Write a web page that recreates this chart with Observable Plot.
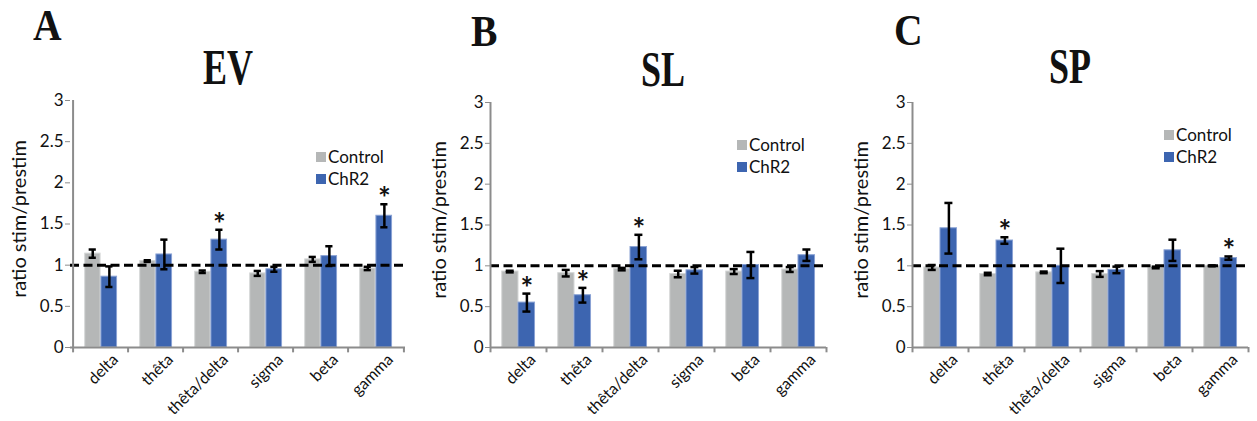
<!DOCTYPE html>
<html>
<head>
<meta charset="utf-8">
<script src="https://cdn.jsdelivr.net/npm/d3@7"></script>
<script src="https://cdn.jsdelivr.net/npm/@observablehq/plot@0.6"></script>
<style>
  html, body { margin: 0; padding: 0; background: #fff; }
  #root { position: relative; width: 1257px; height: 421px; overflow: hidden; font-family: Lato, "Open Sans", sans-serif; }
  .panel { position: absolute; top: 0; }
  .letter, .title { position: absolute; font-family: "Liberation Serif", "DejaVu Serif", serif; font-weight: bold; line-height: 1; color: #111; white-space: nowrap; }
  .letter { font-size: 44px; transform-origin: left top; }
  .title { font-size: 50px; transform-origin: center top; }
  .legend { position: absolute; }
  .legend svg { margin-right: 2px !important; }
</style>
</head>
<body>
<div id="root"></div>
<script>
// ---------- data ----------
const categories = ["delta", "thêta", "thêta/delta", "sigma", "beta", "gamma"];
const series = ["Control", "ChR2"];
const yTicks = [0, 0.5, 1, 1.5, 2, 2.5, 3];
const panelLetters = ["A", "B", "C"];
const panelTitles = ["EV", "SL", "SP"];
const yLabel = "ratio stim/prestim";

const evControl    = [1.14, 1.05, 0.92, 0.90, 1.07, 0.96];
const evControlErr = [0.05, 0.01, 0.015, 0.03, 0.03, 0.02];
const evChR2       = [0.86, 1.13, 1.31, 0.95, 1.11, 1.60];
const evChR2Err    = [0.125, 0.18, 0.12, 0.03, 0.12, 0.14];
const evStars      = [false, false, true, false, false, true];

const slControl    = [0.93, 0.91, 0.96, 0.90, 0.93, 0.955];
const slControlErr = [0.01, 0.04, 0.015, 0.04, 0.03, 0.03];
const slChR2       = [0.55, 0.64, 1.23, 0.945, 1.01, 1.13];
const slChR2Err    = [0.11, 0.09, 0.15, 0.04, 0.16, 0.07];
const slStars      = [true, true, true, false, false, false];

const spControl    = [0.98, 0.90, 0.92, 0.90, 0.98, 1.00];
const spControlErr = [0.03, 0.015, 0.01, 0.035, 0.01, 0.005];
const spChR2       = [1.46, 1.31, 1.00, 0.95, 1.19, 1.095];
const spChR2Err    = [0.31, 0.04, 0.21, 0.04, 0.13, 0.02];
const spStars      = [false, true, false, false, false, true];

// ---------- style ----------
const GRAY = "#b5b7b7";
const BLUE = "#3d65b0";
const AXIS = "#8c8c8c";

const panels = [
  {control: evControl, controlErr: evControlErr, chr2: evChR2, chr2Err: evChR2Err, stars: evStars,
   left: 0, width: 420, ml: 70, mr: 15, mt: 100, mb: 74,
   letter: {left: 33, top: 4}, title: {cx: 228, top: 42}, legend: {left: 316, top: 146}},
  {control: slControl, controlErr: slControlErr, chr2: slChR2, chr2Err: slChR2Err, stars: slStars,
   left: 420, width: 420, ml: 70, mr: 14, mt: 102, mb: 74,
   letter: {left: 471, top: 10}, title: {cx: 663, top: 44}, legend: {left: 737, top: 134}},
  {control: spControl, controlErr: spControlErr, chr2: spChR2, chr2Err: spChR2Err, stars: spStars,
   left: 840, width: 417, ml: 72, mr: 9, mt: 102, mb: 74,
   letter: {left: 894, top: 9}, title: {cx: 1070, top: 41}, legend: {left: 1164, top: 124}}
];

const root = document.getElementById("root");
const FONT = "Lato, 'Open Sans', sans-serif";

panels.forEach((p, pi) => {
  const rows = categories.map((c, i) => ({
    cat: c, control: p.control[i], controlErr: p.controlErr[i],
    chr2: p.chr2[i], chr2Err: p.chr2Err[i], star: p.stars[i]
  }));
  const s = (p.width - p.ml - p.mr) / categories.length; // band step
  const offC = -s * 0.148, offB = s * 0.15;
  const capIn = s / 2 - 4;

  const chart = Plot.plot({
    width: p.width, height: 421,
    marginLeft: p.ml, marginRight: p.mr, marginTop: p.mt, marginBottom: p.mb,
    style: {fontFamily: FONT, fontSize: "16px", background: "transparent", overflow: "visible", color: "#111"},
    x: {domain: categories, padding: 0, axis: null},
    y: {domain: [0, 3], axis: null},
    marks: [
      Plot.barY(rows, {x: "cat", y: "control", fill: GRAY, stroke: "#d4d6d6", strokeWidth: 1, insetLeft: s * 0.21, insetRight: s * 0.5}),
      Plot.barY(rows, {x: "cat", y: "chr2", fill: BLUE, stroke: "#8aa2d4", strokeWidth: 1, insetLeft: s * 0.5, insetRight: s * 0.205}),
      Plot.ruleY([1], {stroke: "#000", strokeWidth: 3, strokeDasharray: "9,4.5"}),
      // error bars
      Plot.ruleX(rows, {x: "cat", y1: d => d.control - d.controlErr, y2: d => d.control + d.controlErr, dx: offC, stroke: "#000", strokeWidth: 2.5}),
      Plot.tickY(rows, {x: "cat", y: d => d.control + d.controlErr, dx: offC, insetLeft: capIn, insetRight: capIn, stroke: "#000", strokeWidth: 2.5}),
      Plot.tickY(rows, {x: "cat", y: d => d.control - d.controlErr, dx: offC, insetLeft: capIn, insetRight: capIn, stroke: "#000", strokeWidth: 2.5}),
      Plot.ruleX(rows, {x: "cat", y1: d => d.chr2 - d.chr2Err, y2: d => d.chr2 + d.chr2Err, dx: offB, stroke: "#000", strokeWidth: 2.5}),
      Plot.tickY(rows, {x: "cat", y: d => d.chr2 + d.chr2Err, dx: offB, insetLeft: capIn, insetRight: capIn, stroke: "#000", strokeWidth: 2.5}),
      Plot.tickY(rows, {x: "cat", y: d => d.chr2 - d.chr2Err, dx: offB, insetLeft: capIn, insetRight: capIn, stroke: "#000", strokeWidth: 2.5}),
      // significance stars
      Plot.text(rows.filter(d => d.star), {x: "cat", y: d => d.chr2 + d.chr2Err, dx: offB, dy: 5, text: () => "*", fontSize: 30, fontWeight: "bold", lineAnchor: "bottom", fill: "#111"}),
      // axes lines
      Plot.ruleY([0], {stroke: AXIS, strokeWidth: 2}),
      Plot.ruleX([categories[0]], {x: d => d, dx: -s / 2, y1: 0, y2: 3, stroke: AXIS, strokeWidth: 2}),
      Plot.ruleX(categories, {x: d => d, dx: -s / 2, y1: 0, y2: -0.065, stroke: AXIS, strokeWidth: 2}),
      Plot.ruleX([categories[categories.length - 1]], {x: d => d, dx: s / 2, y1: 0, y2: -0.065, stroke: AXIS, strokeWidth: 2}),
      Plot.axisY({ticks: yTicks, tickFormat: d => String(d), tickSize: 5, tickPadding: 2, stroke: AXIS, fill: "#111", fontSize: 17, label: null}),
      // category labels, rotated
      Plot.text(categories, {x: d => d, y: () => 0, text: d => d, rotate: -45, textAnchor: "end", lineAnchor: "top", dx: 10, dy: 5, fontSize: 16, fill: "#111"}),
      Plot.text([yLabel], {frameAnchor: "left", rotate: -90, textAnchor: "middle", dx: -51, dy: -5, fontSize: 20, fill: "#111"})
    ]
  });
  chart.classList.add("panel");
  chart.style.left = p.left + "px";
  root.appendChild(chart);

  // panel letter and title
  const L = document.createElement("div");
  L.className = "letter";
  L.textContent = panelLetters[pi];
  L.style.left = p.letter.left + "px";
  L.style.top = p.letter.top + "px";
  L.style.transform = "scaleX(0.9)";
  root.appendChild(L);

  const T = document.createElement("div");
  T.className = "title";
  T.textContent = panelTitles[pi];
  T.style.left = (p.title.cx - 100) + "px";
  T.style.width = "200px";
  T.style.textAlign = "center";
  T.style.top = p.title.top + "px";
  T.style.transform = "scaleX(0.72)";
  root.appendChild(T);

  // legend
  const leg = Plot.legend({
    color: {type: "categorical", domain: series, range: [GRAY, BLUE]},
    legend: "swatches", columns: 1, swatchSize: 10,
    style: {fontFamily: FONT, fontSize: "17px", color: "#111", background: "transparent"}
  });
  leg.classList.add("legend");
  leg.style.left = p.legend.left + "px";
  leg.style.top = p.legend.top + "px";
  leg.style.margin = "0";
  root.appendChild(leg);
});
</script>
</body>
</html>
